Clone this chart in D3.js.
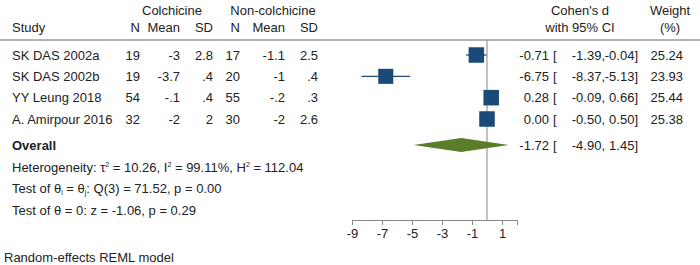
<!DOCTYPE html>
<html><head><meta charset="utf-8">
<script src="https://cdn.jsdelivr.net/npm/d3@7"></script>
<style>body{margin:0;background:#fff}svg{display:block}text{font-family:"Liberation Sans",Arial,sans-serif;font-size:13px;fill:#222}</style>
</head><body>
<script>
const studies = ["SK DAS 2002a","SK DAS 2002b","YY Leung 2018","A. Amirpour 2016"];
const colN = ["19","19","54","32"];
const colMean = ["-3","-3.7","-.1","-2"];
const colSD = ["2.8",".4",".4","2"];
const nonN = ["17","20","55","30"];
const nonMean = ["-1.1","-1","-.2","-2"];
const nonSD = ["2.5",".4",".3","2.6"];
const effect = [-0.71,-6.75,0.28,0.00];
const lower = [-1.39,-8.37,-0.09,-0.50];
const upper = [-0.04,-5.13,0.66,0.50];
const weight = [25.24,23.93,25.44,25.38];
const overall = {est:-1.72, lo:-4.90, hi:1.45};
const tickVals = [-9,-7,-5,-3,-1,1];

const W=700,H=265;
const svg=d3.select("body").append("svg").attr("width",W).attr("height",H);
const x=d3.scaleLinear().domain([-9,2]).range([352,517]);
const rowY=d3.scalePoint().domain(d3.range(4)).range([55,119]);
const ovY=145, axisY=220, headLineY=40;
const blue="#1c4a78", green="#5a7d2a";

function txt(xp,y,s,anchor,extra){
  const t=svg.append("text").attr("x",xp).attr("y",y+4.5).attr("text-anchor",anchor||"start").text(s);
  if(extra) extra(t);
  return t;
}
// headers
txt(172,10,"Colchicine","middle");
txt(273,10,"Non-colchicine","middle");
txt(12,27,"Study");
txt(140,27,"N","end");txt(180,27,"Mean","end");txt(213,27,"SD","end");
txt(240,27,"N","end");txt(285,27,"Mean","end");txt(318,27,"SD","end");
txt(580,10,"Cohen's d","middle");txt(580,27,"with 95% CI","middle");
txt(670,10,"Weight","middle");txt(670,27,"(%)","middle");
svg.append("line").attr("x1",0).attr("x2",700).attr("y1",headLineY).attr("y2",headLineY).attr("stroke","#666").attr("stroke-width",1);

// zero line
svg.append("line").attr("x1",x(0)).attr("x2",x(0)).attr("y1",headLineY).attr("y2",axisY).attr("stroke","#999").attr("stroke-width",1.2);

const f2=v=>d3.format(".2f")(v).replace("−","-");
studies.forEach((s,i)=>{
  const y=rowY(i);
  txt(12,y,s);
  txt(140,y,colN[i],"end");txt(180,y,colMean[i],"end");txt(213,y,colSD[i],"end");
  txt(240,y,nonN[i],"end");txt(285,y,nonMean[i],"end");txt(318,y,nonSD[i],"end");
  txt(549,y,f2(effect[i]),"end");txt(553,y,"[");
  txt(605,y,f2(lower[i])+",","end");txt(638,y,f2(upper[i])+"]","end");
  txt(683,y,f2(weight[i]),"end");
  svg.append("line").attr("x1",x(lower[i])).attr("x2",x(upper[i])).attr("y1",y).attr("y2",y).attr("stroke",blue).attr("stroke-width",1.3);
  const sz=Math.sqrt(weight[i])*3.08;
  svg.append("rect").attr("x",x(effect[i])-sz/2).attr("y",y-sz/2).attr("width",sz).attr("height",sz).attr("fill",blue);
});
// overall
txt(12,ovY,"Overall",null,t=>t.style("font-weight","bold"));
svg.append("path").attr("d",`M${x(overall.lo)},${ovY}L${x(overall.est)},${ovY-7}L${x(overall.hi)},${ovY}L${x(overall.est)},${ovY+7}Z`).attr("fill",green);
txt(549,ovY,f2(overall.est),"end");txt(553,ovY,"[");
txt(605,ovY,f2(overall.lo)+",","end");txt(638,ovY,f2(overall.hi)+"]","end");

// stats
const h=txt(12,167,"");
h.append("tspan").text("Heterogeneity: τ");
h.append("tspan").attr("dy",-5).style("font-size","7px").text("2");
h.append("tspan").attr("dy",5).text(" = 10.26, I");
h.append("tspan").attr("dy",-5).style("font-size","7px").text("2");
h.append("tspan").attr("dy",5).text(" = 99.11%, H");
h.append("tspan").attr("dy",-5).style("font-size","7px").text("2");
h.append("tspan").attr("dy",5).text(" = 112.04");
const q=txt(12,188,"");
q.append("tspan").text("Test of θ");
q.append("tspan").attr("dy",2).style("font-size","7px").text("i");
q.append("tspan").attr("dy",-2).text(" = θ");
q.append("tspan").attr("dy",2).style("font-size","7px").text("j");
q.append("tspan").attr("dy",-2).text(": Q(3) = 71.52, p = 0.00");
txt(12,210,"Test of θ = 0: z = -1.06, p = 0.29");
txt(4,257,"Random-effects REML model");

// axis
const ax=svg.append("g").attr("transform",`translate(0,${axisY})`).call(d3.axisBottom(x).tickValues(tickVals).tickFormat(d=>String(d)).tickSizeOuter(0).tickSize(5).tickPadding(4));
ax.select(".domain").attr("stroke","#888");
ax.selectAll(".tick line").attr("stroke","#888");
ax.selectAll(".tick text").style("font-size","13px").style("font-family","'Liberation Sans',Arial,sans-serif").attr("fill","#222");
</script>
</body></html>
